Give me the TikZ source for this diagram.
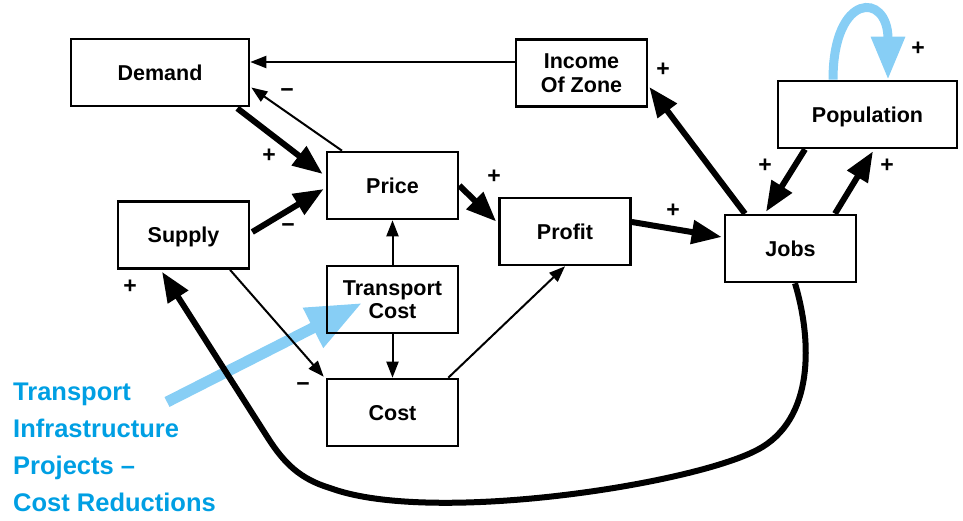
\documentclass[tikz,border=0pt]{standalone}
\usepackage{fontspec}
\setmainfont{Liberation Sans}
\usetikzlibrary{arrows.meta,calc,backgrounds}
\definecolor{lblue}{RGB}{135,206,245}
\definecolor{tblue}{RGB}{0,159,227}
\begin{document}
\begin{tikzpicture}[x=1pt,y=-1pt,
  boxbase/.style={draw,line width=2.6pt,minimum width=131pt,minimum height=67pt,inner sep=0pt,align=center,font=\fontsize{21.5}{23.5}\selectfont\bfseries},
  box/.style={boxbase,text height=15.4pt,text depth=0pt},
  thinarr/.style={line width=2pt,-{Triangle[length=16pt,width=12pt]}},
  thickarr/.style={line width=6pt,-{Triangle[length=30pt,width=23pt]}},
  sign/.style={font=\fontsize{23}{25}\selectfont\bfseries,inner sep=0pt},
]
\useasboundingbox (0,0) rectangle (963,520);

% boxes
\node[box,minimum width=178pt] (demand) at (160,72.5) {Demand};
\node[box] (price) at (392.5,185.5) {Price};
\node[box] (supply) at (183.5,235) {Supply};
\node[boxbase] (income) at (581.5,73) {Income\\Of Zone};
\node[box,minimum width=179pt] (pop) at (867.5,114.5) {Population};
\node[box] (profit) at (565,231.5) {Profit};
\node[box] (jobs) at (790.5,248.5) {Jobs};
\node[boxbase] (tcost) at (392.5,299.5) {Transport\\Cost};
\node[box] (cost) at (392.5,412.5) {Cost};

% blue annotation
\node[anchor=north west,inner sep=0pt,align=left,text=tblue,font=\fontsize{25.5}{37}\selectfont\bfseries] (proj) at (13,383) {Transport\\Infrastructure\\Projects –\\Cost Reductions};
\coordinate (src) at (167,402);
\begin{scope}[on background layer]
\draw[line width=11pt,lblue,-{Triangle[length=55pt,width=42pt]}] (src) -- ($(tcost.center)+(-30.5,3.5)$);
\draw[line width=9pt,lblue,-{Triangle[length=43pt,width=32pt]}] ($(pop.north)+(-34.5,0)$) .. controls +(0,-88) and +(0,-88) .. ($(pop.north)+(20.5,0)$);
\end{scope}

% connectors
\draw[thinarr] ($(income.west)+(0,-11)$) -- ($(demand.east)+(0,-10.5)$);
\draw[thinarr] ($(price.north)+(-50.5,0)$) -- ($(demand.east)+(1,15)$);
\draw[thickarr] ($(demand.south east)+(-13,1)$) -- ($(price.west)+(-3,-11.5)$);
\draw[thickarr] ($(supply.east)+(2,-3)$) -- ($(price.west)+(-2,3.5)$);
\draw[thickarr] (price.east) -- ($(profit.west)+(-2,-10)$);
\draw[thickarr] ($(profit.east)+(0,-9.5)$) -- ($(jobs.west)+(-2,-11.5)$);
\draw[thickarr] ($(jobs.north)+(-45.5,0)$) -- ($(income.east)+(1,14)$);
\draw[thickarr] ($(pop.south)+(-62.5,0)$) -- ($(jobs.north)+(-24.5,-2)$);
\draw[thickarr] ($(jobs.north)+(44.5,0)$) -- ($(pop.south)+(5.5,2)$);
\draw[thinarr] (tcost.north) -- (price.south);
\draw[thinarr] (tcost.south) -- (cost.north);
\draw[thinarr] ($(supply.south)+(46.5,0)$) -- ($(cost.north west)+(-2,-1)$);
\draw[thinarr] ($(cost.north east)+(-11,0)$) -- (profit.south);
\draw[thickarr] ($(jobs.south)+(4.5,0)$) .. controls (812,340) and (815,420) .. (757,450)
  .. controls (690,485) and (430,525) .. (330,488)
  .. controls (300,479) and (284,463) .. (268,438) -- ($(supply.south)+(-21.5,2)$);

% signs
\node[sign] (s1) at (287,93) {−};
\node[sign] (s2) at (269,156) {+};
\node[sign] (s3) at (288,228) {−};
\node[sign] (s4) at (494,177) {+};
\node[sign] (s5) at (673,211) {+};
\node[sign] (s6) at (663,70) {+};
\node[sign] (s7) at (765,166) {+};
\node[sign] (s8) at (887,166) {+};
\node[sign] (s9) at (918,49) {+};
\node[sign] (s10) at (130,287) {+};
\node[sign] (s11) at (303,387) {−};
\end{tikzpicture}
\end{document}
